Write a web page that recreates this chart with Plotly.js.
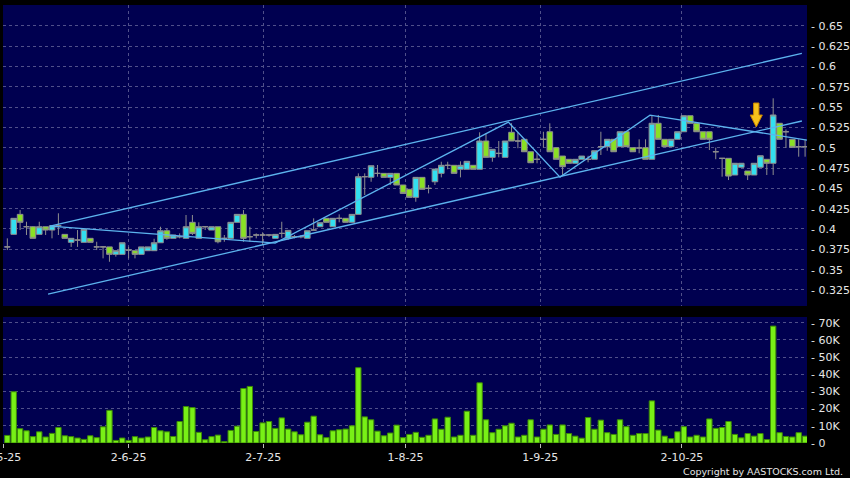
<!DOCTYPE html>
<html>
<head>
<meta charset="utf-8">
<script src="https://cdn.plot.ly/plotly-3.0.1.min.js"></script>
<style>html,body{margin:0;padding:0;background:#000;}#chart{width:850px;height:478px;}</style>
</head>
<body>
<div id="chart"></div>
<script>
// ---------- data (trading-day index 0..125) ----------
const OPEN = [
0.378,0.3934,0.418,0.4028,0.4028,0.3934,0.4028,0.3987,0.404,0.3934,
0.3836,0.3864,0.3836,0.3885,0.378,0.378,0.378,0.3688,0.3688,0.3741,
0.3733,0.3688,0.3733,0.3733,0.3831,0.3978,0.3885,0.3905,0.3885,0.4082,
0.3885,0.4028,0.3987,0.4028,0.3885,0.3885,0.4082,0.418,0.3905,0.3926,
0.3926,0.3926,0.3885,0.3946,0.3885,0.3905,0.3905,0.3885,0.3987,0.4028,
0.4131,0.4028,0.4131,0.4131,0.4082,0.418,0.4643,0.4636,0.4684,0.4684,
0.4635,0.4684,0.4541,0.4488,0.4389,0.4635,0.45,0.4581,0.4684,0.4783,
0.4783,0.4734,0.4734,0.4783,0.4734,0.5082,0.4881,0.493,0.4881,0.5189,
0.5082,0.5103,0.495,0.4857,0.5103,0.5196,0.5,0.4897,0.4857,0.4808,
0.4857,0.4857,0.4857,0.5012,0.5012,0.5103,0.5012,0.5196,0.5,0.4996,
0.5,0.4857,0.53,0.5103,0.5012,0.5103,0.5196,0.5393,0.53,0.5196,
0.5196,0.495,0.4869,0.4869,0.4664,0.4759,0.4713,0.4664,0.4759,0.4857,
0.4808,0.53,0.5196,0.5103,0.5012,0.5012];
const HIGH = [
0.3885,0.4135,0.4233,0.4089,0.4036,0.4089,0.4028,0.4045,0.4193,0.3934,
0.3885,0.3987,0.3996,0.3889,0.3843,0.379,0.378,0.3733,0.3831,0.378,
0.3733,0.378,0.378,0.388,0.4028,0.4004,0.3926,0.3946,0.4172,0.4172,
0.4082,0.4036,0.4028,0.4028,0.3926,0.4082,0.418,0.4233,0.4028,0.3946,
0.3959,0.3934,0.3934,0.4089,0.3983,0.3926,0.3926,0.3978,0.4131,0.4077,
0.4131,0.4131,0.418,0.4131,0.418,0.4684,0.4684,0.4778,0.4787,0.4684,
0.4684,0.4684,0.4541,0.4488,0.4635,0.4635,0.4541,0.4737,0.4827,0.4827,
0.4783,0.4832,0.4832,0.4783,0.5189,0.5177,0.498,0.5082,0.5082,0.53,
0.5189,0.5103,0.495,0.493,0.5196,0.53,0.5,0.4897,0.4857,0.4857,
0.4897,0.49,0.4962,0.5196,0.5103,0.5103,0.5196,0.5196,0.5,0.5103,
0.5103,0.5402,0.5402,0.5103,0.5103,0.5196,0.5393,0.5393,0.53,0.5196,
0.5196,0.5,0.4869,0.4869,0.4808,0.4808,0.4713,0.4808,0.4901,0.4857,
0.5607,0.53,0.5224,0.5103,0.5103,0.5103];
const LOW = [
0.3741,0.393,0.3987,0.3926,0.3885,0.3934,0.3926,0.3885,0.3926,0.3885,
0.378,0.378,0.3836,0.3836,0.3741,0.3639,0.3597,0.366,0.3688,0.3639,
0.3639,0.3688,0.3733,0.3733,0.3831,0.3867,0.3885,0.3885,0.3885,0.3926,
0.3885,0.3987,0.3987,0.3823,0.3843,0.3885,0.4082,0.3843,0.3843,0.3885,
0.3803,0.3905,0.3885,0.3892,0.3867,0.3885,0.3885,0.3885,0.3987,0.4028,
0.4082,0.4028,0.4082,0.4082,0.4082,0.418,0.4418,0.4581,0.4643,0.4635,
0.4541,0.4541,0.4438,0.4389,0.4335,0.4488,0.4438,0.4541,0.4635,0.4734,
0.4684,0.4635,0.4734,0.4734,0.4734,0.4881,0.4827,0.4881,0.4881,0.5082,
0.4993,0.495,0.4815,0.4808,0.5,0.495,0.4857,0.4651,0.4808,0.4808,
0.4857,0.482,0.4857,0.491,0.4962,0.495,0.5012,0.5012,0.495,0.4931,
0.4857,0.4857,0.5103,0.5012,0.5012,0.5103,0.5196,0.53,0.5196,0.5103,
0.4971,0.4858,0.4643,0.4602,0.4664,0.4759,0.4602,0.4664,0.4759,0.4664,
0.4664,0.5103,0.4996,0.5004,0.4889,0.4889];
const CLOSE = [
0.378,0.4131,0.4082,0.4028,0.3885,0.4028,0.3987,0.404,0.404,0.3885,
0.3885,0.3864,0.3996,0.3836,0.378,0.378,0.3688,0.3733,0.3831,0.3741,
0.3688,0.378,0.378,0.3831,0.3978,0.3885,0.3926,0.3905,0.4028,0.3946,
0.4028,0.4028,0.4028,0.3843,0.3885,0.4082,0.418,0.3885,0.3905,0.3926,
0.3926,0.3926,0.3934,0.3946,0.3983,0.3905,0.3905,0.3978,0.3987,0.4077,
0.4082,0.4131,0.4131,0.4082,0.418,0.4643,0.4643,0.4778,0.4684,0.4635,
0.4684,0.4541,0.4438,0.4389,0.4635,0.4488,0.45,0.4737,0.4783,0.4783,
0.4684,0.4783,0.4832,0.4734,0.5082,0.4881,0.498,0.493,0.5082,0.5082,
0.5082,0.495,0.4815,0.4857,0.5103,0.495,0.4857,0.4766,0.4808,0.4857,
0.4897,0.4857,0.4962,0.5012,0.5103,0.495,0.5196,0.5012,0.495,0.4996,
0.4857,0.53,0.5103,0.5012,0.5103,0.5196,0.5393,0.53,0.5196,0.5103,
0.5103,0.495,0.4869,0.4651,0.4808,0.4808,0.4664,0.4808,0.4901,0.4808,
0.5402,0.5103,0.5196,0.5004,0.5012,0.5012];
const VOLUME = [
4400,29800,8300,7100,3700,6500,3500,5600,9000,4200,
3700,2900,2100,4200,3100,9400,19000,1500,2900,1500,
3700,2900,3500,9000,7100,6500,3800,12500,21200,20600,
6200,1900,3700,4600,800,7300,9800,31700,32900,6700,
11700,12500,8500,14600,8100,6500,4800,12100,15600,4800,
3100,7100,7700,8100,10000,43800,15200,13500,6900,4200,
5800,10400,3100,5000,6200,3300,4500,14000,8000,15000,
3500,4500,18500,4500,35000,13500,6000,8000,10000,11500,
3500,4500,13500,3500,8000,10500,5000,10500,5500,4000,
2800,14800,8000,13300,6000,5000,13500,9500,4500,5500,
5500,24500,7500,4000,2500,6500,9500,3500,4500,3500,
14000,8500,9000,12500,5000,3000,5500,4000,5500,2000,
68000,6000,3800,3500,6000,4000];

// trend lines drawn on the chart (index, price)
const CHANNEL_UPPER_I = [6.69, 124.5];
const CHANNEL_UPPER_P = [0.4036, 0.616];
const CHANNEL_LOWER_I = [6.38, 124.5];
const CHANNEL_LOWER_P = [0.320, 0.5328];
const ZIGZAG_I = [6.69, 41.96, 78.5, 86.6, 100.7, 125.3];
const ZIGZAG_P = [0.4036, 0.3827, 0.5315, 0.4638, 0.540, 0.5093];

// signal arrow
const ARROW_INDEX = 117.35;
const ARROW_TOP_PRICE = 0.5549;
const ARROW_TIP_PRICE = 0.5254;

// axes
const DATE_TICK_POS = [-0.62, 19, 40.1, 62.4, 83.5, 105.7];
const DATE_TICK_LABELS = ['2-5-25','2-6-25','2-7-25','1-8-25','1-9-25','2-10-25'];
const PRICE_TICKS = [0.325,0.35,0.375,0.4,0.425,0.45,0.475,0.5,0.525,0.55,0.575,0.6,0.625,0.65];
const PRICE_TICK_LABELS = ['0.325','0.35','0.375','0.4','0.425','0.45','0.475','0.5','0.525','0.55','0.575','0.6','0.625','0.65'];
const VOL_TICKS = [0,10000,20000,30000,40000,50000,60000,70000];
const VOL_TICK_LABELS = ['0','10K','20K','30K','40K','50K','60K','70K'];

// ---------- drawing ----------
const IDX = OPEN.map((_, k) => k);
const LINE_COLOR = '#5cb3ee';
const GRID = '#50508a';

const traces = [
  {type:'candlestick', x:IDX, open:OPEN, high:HIGH, low:LOW, close:CLOSE,
   xaxis:'x', yaxis:'y', hoverinfo:'skip', whiskerwidth:0,
   increasing:{fillcolor:'#33e0f0', line:{color:'#8e8e8e', width:1}},
   decreasing:{fillcolor:'#8ae024', line:{color:'#8e8e8e', width:1}}},
  {type:'scatter', mode:'lines', x:CHANNEL_UPPER_I, y:CHANNEL_UPPER_P, xaxis:'x', yaxis:'y',
   line:{color:LINE_COLOR, width:1.3}, hoverinfo:'skip'},
  {type:'scatter', mode:'lines', x:CHANNEL_LOWER_I, y:CHANNEL_LOWER_P, xaxis:'x', yaxis:'y',
   line:{color:LINE_COLOR, width:1.3}, hoverinfo:'skip'},
  {type:'scatter', mode:'lines', x:ZIGZAG_I, y:ZIGZAG_P, xaxis:'x', yaxis:'y',
   line:{color:LINE_COLOR, width:1.3}, hoverinfo:'skip'},
  {type:'bar', x:IDX, y:VOLUME, xaxis:'x', yaxis:'y2', hoverinfo:'skip',
   marker:{color:'#78f016', line:{color:'#3d8a06', width:1}}}
];

// arrow polygon (in data coordinates around the arrow point)
const hw = 0.95, sw = 0.42;
const neck = ARROW_TIP_PRICE + (ARROW_TOP_PRICE - ARROW_TIP_PRICE) * 0.5;
const a = ARROW_INDEX;
const arrowPath = `M ${a-sw},${ARROW_TOP_PRICE} L ${a+sw},${ARROW_TOP_PRICE} L ${a+sw},${neck} L ${a+hw},${neck} L ${a},${ARROW_TIP_PRICE} L ${a-hw},${neck} L ${a-sw},${neck} Z`;

const layout = {
  width:850, height:478,
  paper_bgcolor:'#000000', plot_bgcolor:'#000050',
  margin:{l:3, r:43, t:5, b:35},
  showlegend:false,
  bargap:0.16,
  boxgap:0.12,
  boxgroupgap:0,
  font:{family:'DejaVu Sans, Verdana, sans-serif', size:11, color:'#e6e6e6'},
  xaxis:{anchor:'y2', range:[-0.68, 125.3], tickmode:'array', tickvals:DATE_TICK_POS, ticktext:DATE_TICK_LABELS,
    showgrid:true, gridcolor:GRID, griddash:'3px,3px', gridwidth:1, zeroline:false, showline:false,
    ticks:'outside', ticklen:4, tickcolor:'#bbbbbb', rangeslider:{visible:false}, fixedrange:true,
    ticklabeloverflow:'allow'},
  yaxis:{domain:[0.3128, 1], anchor:'x', side:'right', range:[0.30531, 0.67545],
    tickmode:'array', tickvals:PRICE_TICKS, ticktext:PRICE_TICK_LABELS.map(s => '- ' + s),
    showgrid:true, gridcolor:GRID, griddash:'3px,3px', gridwidth:1, zeroline:false, showline:false,
    ticks:'', ticklabelstandoff:3, fixedrange:true},
  yaxis2:{domain:[0, 0.2877], anchor:'x', side:'right', range:[0, 73300],
    tickmode:'array', tickvals:VOL_TICKS, ticktext:VOL_TICK_LABELS.map(s => '- ' + s),
    showgrid:true, gridcolor:GRID, griddash:'3px,3px', gridwidth:1, zeroline:false, showline:false,
    ticks:'', ticklabelstandoff:3, fixedrange:true},
  shapes:[
    {type:'path', xref:'x', yref:'y', path:arrowPath, fillcolor:'#f6c21c', line:{color:'#c98400', width:1}, layer:'above'}
  ],
  annotations:[
    {xref:'paper', yref:'paper', x:1, y:0, xanchor:'right', yanchor:'middle', xshift:38, yshift:-28,
     text:'Copyright by AASTOCKS.com Ltd.', showarrow:false, font:{size:9.5, color:'#e6e6e6'}}
  ]
};

Plotly.newPlot('chart', traces, layout, {displayModeBar:false, staticPlot:true});
</script>
</body>
</html>
